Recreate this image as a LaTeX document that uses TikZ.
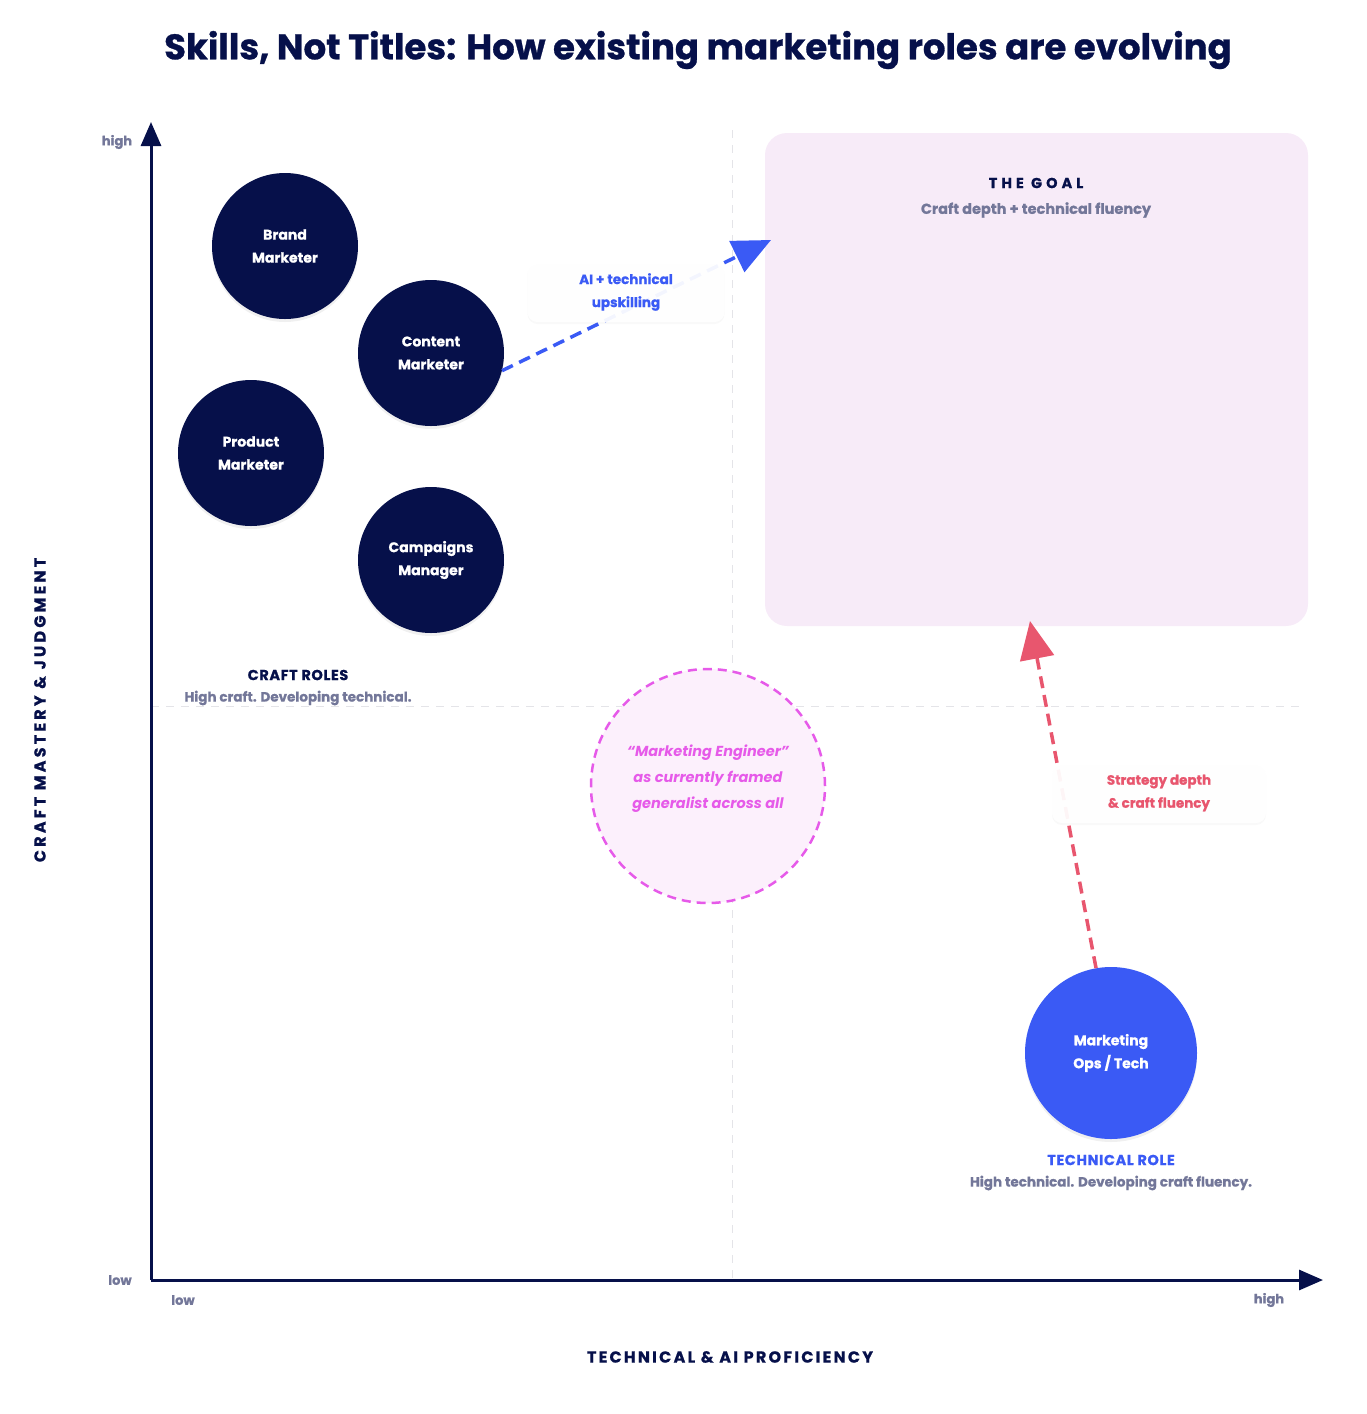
\documentclass[tikz,border=0pt]{standalone}
\usepackage{fontspec}
\setmainfont{Poppins}[BoldFeatures={FakeBold=0.8}]
\usepackage{tikz}
\usetikzlibrary{arrows.meta,shadows}

\definecolor{navy}{HTML}{06104A}
\definecolor{txtgray}{HTML}{737799}
\definecolor{techblue}{HTML}{3A5AF5}
\definecolor{goalpink}{HTML}{F7EBF8}
\definecolor{magenta}{HTML}{E65AE9}
\definecolor{engpink}{HTML}{FCF0FC}
\definecolor{stratred}{HTML}{E8566E}
\definecolor{gridgray}{HTML}{E4E4E8}

\tikzset{
  role/.style={circle, fill=navy, text=white, minimum size=146, align=center,
    font=\bfseries\fontsize{14}{23}\selectfont,
    drop shadow={shadow xshift=0pt, shadow yshift=-3pt, opacity=0.12}},
  tag/.style={rectangle, rounded corners=10, fill=white, fill opacity=0.94, text opacity=1,
    minimum width=197, minimum height=60, align=center,
    font=\bfseries\fontsize{13.5}{23}\selectfont,
    drop shadow={shadow xshift=0pt, shadow yshift=-2pt, opacity=0.05}},
  head/.style={font=\bfseries\fontsize{14.5}{17}\selectfont\addfontfeatures{LetterSpace=#1}},
  head/.default=6,
  axislabel/.style={navy, font=\bfseries\fontsize{16}{18}\selectfont\addfontfeatures{LetterSpace=#1}},
  sub/.style={text=txtgray, font=\bfseries\fontsize{13.5}{16}\selectfont},
  tick/.style={text=txtgray, font=\bfseries\fontsize{13}{15}\selectfont},
  grid/.style={gridgray, line width=1, dash pattern=on 8 off 7},
  move/.style={line width=3.5, dash pattern=on 12 off 7}
}

\begin{document}
\begin{tikzpicture}[x=1pt,y=-1pt]
\useasboundingbox (0,0) rectangle (1366,1414);

%% title
\node[navy, font=\bfseries\fontsize{35.5}{40}\selectfont] (title) at (698,50)
  {Skills, Not Titles: How existing marketing roles are evolving};

%% quadrant lines
\draw[grid] (732,130) -- (732,1280);
\draw[grid] (151,706) -- (1305,706);

%% goal
\fill[goalpink, rounded corners=22] (765,133) rectangle (1308,626);
\node[navy, head=28] (goal) at (1036,183) {THE GOAL};
\node[sub, font=\bfseries\fontsize{14.5}{17}\selectfont] (goalsub) at (1036,210) {Craft depth + technical fluency};

%% axes
\draw[navy, line width=3, -{Triangle[length=24,width=20]}] (151,1280) -- (151,122);
\draw[navy, line width=3, -{Triangle[length=24,width=20]}] (151,1280) -- (1323,1280);
\node[tick] (yhigh) at (117,142) {high};
\node[tick] (ylow) at (120,1280) {low};
\node[tick] (xlow) at (183,1300) {low};
\node[tick] (xhigh) at (1269,1300) {high};
\node[axislabel=20, rotate=90] (ylabel) at (40,710) {CRAFT MASTERY \& JUDGMENT};
\node[axislabel=14] (xlabel) at (730,1357) {TECHNICAL \& AI PROFICIENCY};

%% craft roles
\node[role] (brand) at (285,246) {Brand\\Marketer};
\node[role] (content) at (431,353) {Content\\Marketer};
\node[role] (product) at (251,453) {Product\\Marketer};
\node[role] (campaigns) at (431,560) {Campaigns\\Manager};
\node[navy, head=4] (craft) at (298,675) {CRAFT ROLES};
\node[sub] (craftsub) at (298,698) {High craft. Developing technical.};

%% marketing engineer
\node[circle, fill=engpink, draw=magenta, line width=2.5, dash pattern=on 9 off 6,
  minimum size=234] (engineer) at (708,786) {};
\node[text=magenta, align=center, font=\bfseries\itshape\fontsize{14.5}{26}\selectfont]
  (engtext) at ([yshift=7]engineer.center)
  {``Marketing Engineer''\\as currently framed\\generalist across all};

%% technical role
\node[role, fill=techblue, minimum size=172] (ops) at (1111,1053) {Marketing\\Ops / Tech};
\node[techblue, head=4] (tech) at (1111,1160) {TECHNICAL ROLE};
\node[sub] (techsub) at (1111,1183) {High technical. Developing craft fluency.};

%% moves
\coordinate (bluetip) at (771,240);
\coordinate (redtip) at (1030,621);
\draw[techblue, move, -{Triangle[length=38,width=34]}] (content.-14) -- (bluetip);
\draw[stratred, move, -{Triangle[length=38,width=34]}] (ops.100) -- (redtip);
\node[tag, text=techblue] (upskill) at (626,292) {AI + technical\\upskilling};
\node[tag, text=stratred, minimum width=214] (strategy) at (1159,793) {Strategy depth\\\& craft fluency};
\end{tikzpicture}
\end{document}
